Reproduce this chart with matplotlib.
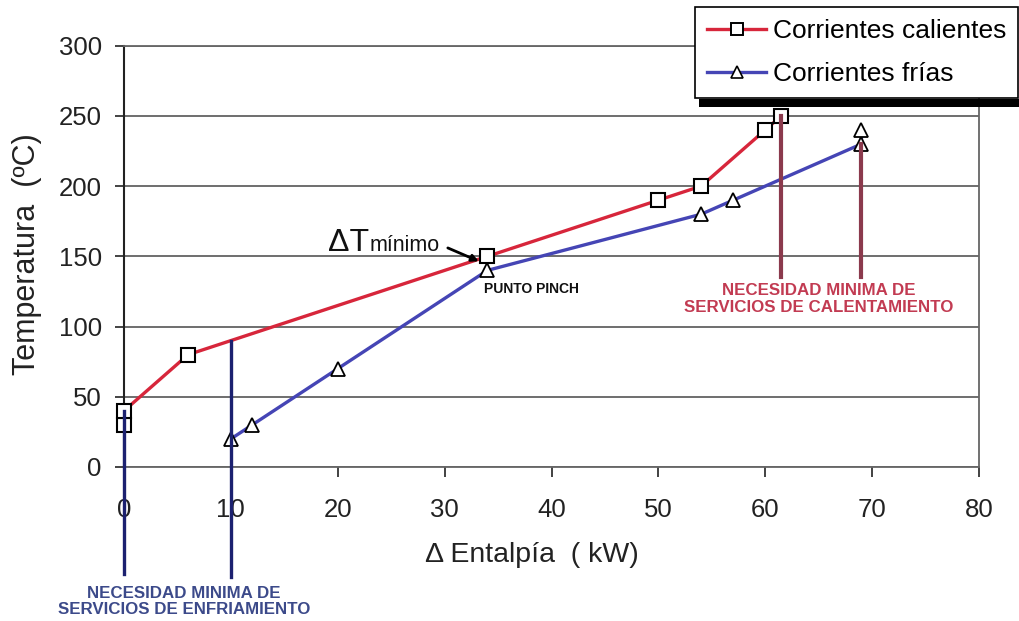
import numpy as np
import matplotlib
matplotlib.use("Agg")
import matplotlib.pyplot as plt
from matplotlib.lines import Line2D
from matplotlib.patches import Rectangle

plt.rcParams['font.family'] = ['Liberation Sans', 'DejaVu Sans']

# Composite curves (enthalpy in kW, temperature in ºC)
hot_dh = [0, 0, 6, 34, 50, 54, 60, 61.5]
hot_T = [30, 40, 80, 150, 190, 200, 240, 250]
cold_dh = [10, 12, 20, 34, 54, 57, 69, 69]
cold_T = [20, 30, 70, 140, 180, 190, 230, 240]

x_ticks = [0, 10, 20, 30, 40, 50, 60, 70, 80]
y_ticks = [0, 50, 100, 150, 200, 250, 300]

hot_label = "Corrientes calientes"
cold_label = "Corrientes frías"

RED = '#d7263b'
BLUE = '#4545b5'
NAVY = '#1c2170'
MAROON = '#8b3a4d'

W, H = 1020, 621
fig = plt.figure(figsize=(W / 100, H / 100), dpi=100)
ax = fig.add_axes([124 / W, 1 - 467 / H, 855 / W, 421.3 / H])
ax.set_xlim(x_ticks[0], x_ticks[-1])
ax.set_ylim(y_ticks[0], y_ticks[-1])
ax.set_xticks(x_ticks)
ax.set_yticks(y_ticks)

ax.yaxis.grid(True, color='#555555', lw=1.2)
ax.set_axisbelow(True)
for side in ['top', 'right', 'bottom']:
    ax.spines[side].set_color('#666666')
    ax.spines[side].set_linewidth(1.3)
ax.spines['left'].set_color('#222222')
ax.spines['left'].set_linewidth(1.5)

ax.tick_params(axis='y', direction='out', length=6.5, width=1.2, pad=9.5,
               labelsize=18.5, colors='#222222')
ax.tick_params(axis='x', direction='out', length=7, width=1.2, pad=15,
               labelsize=18.5, colors='#222222')

# Hot and cold composite curves
ax.plot(hot_dh, hot_T, color=RED, lw=2.4, marker='s', ms=9.5,
        mfc='white', mec='black', mew=1.5, clip_on=False, zorder=4)
ax.plot(cold_dh, cold_T, color=BLUE, lw=2.4, marker='^', ms=9.5,
        mfc='white', mec='black', mew=1.3, clip_on=False, zorder=4)

# Minimum cold-utility markers (below the hot curve start and cold curve start)
bottom = -76
ax.plot([hot_dh[0], hot_dh[0]], [hot_T[1], bottom], color=NAVY, lw=2.4,
        clip_on=False, zorder=6)
x_cold0 = cold_dh[0]
ax.plot([x_cold0, x_cold0], [np.interp(x_cold0, hot_dh, hot_T), bottom - 2],
        color=NAVY, lw=2.4, clip_on=False, zorder=6)
ax.text(5.6, -95.5, "NECESIDAD MINIMA DE\nSERVICIOS DE ENFRIAMIENTO",
        ha='center', va='center', fontsize=12.2, fontweight='bold',
        color='#3c4a8a', linespacing=1.1)

# Minimum hot-utility markers
low = 135.5
ax.plot([hot_dh[-1], hot_dh[-1]], [hot_T[-1], low], color=MAROON, lw=3,
        zorder=6)
ax.plot([cold_dh[-2], cold_dh[-2]], [cold_T[-2], low], color=MAROON, lw=3,
        zorder=6)
ax.text(65.0, 119.7, "NECESIDAD MINIMA DE\nSERVICIOS DE CALENTAMIENTO",
        ha='center', va='center', fontsize=12.2, fontweight='bold',
        color='#c23b52', linespacing=1.1)

# Pinch annotation
ax.text(33.7, 126.8, "PUNTO PINCH", ha='left', va='center', fontsize=10,
        fontweight='bold', color='#111111')
ax.text(19.08, 153.8, "ΔT", ha='left', va='baseline', fontsize=23,
        color='#111111')
ax.text(23.0, 153.8, "mínimo", ha='left', va='baseline', fontsize=15.5,
        color='#111111')
ax.annotate('', xy=(33.2, 146.5), xytext=(30.3, 156),
            arrowprops=dict(arrowstyle='-|>', color='black', lw=2,
                            mutation_scale=10, shrinkA=0, shrinkB=0),
            zorder=7)

# Axis labels
ax.set_xlabel("Δ Entalpía  ( kW)", fontsize=20.5, color='#222222')
ax.xaxis.set_label_coords((532 - 124) / 855, (467 - 555) / 421.3)
ax.xaxis.label.set_va('center')
ax.set_ylabel("Temperatura  (ºC)", fontsize=22, color='#222222')
ax.yaxis.set_label_coords((27 - 124) / 855, (467 - 254) / 421.3)
ax.yaxis.label.set_va('center')

# Legend with a solid drop shadow
handles = [
    Line2D([], [], color=RED, lw=2.4, marker='s', ms=8, mfc='white',
           mec='black', mew=1.4),
    Line2D([], [], color=BLUE, lw=2.4, marker='^', ms=8, mfc='white',
           mec='black', mew=1.2),
]
leg = fig.legend(handles, [hot_label, cold_label], loc='upper left',
                 bbox_to_anchor=(695 / W, 1 - 7 / H),
                 bbox_transform=fig.transFigure, borderaxespad=0,
                 fontsize=19, frameon=True, fancybox=False, framealpha=1,
                 edgecolor='black', borderpad=0.45, handlelength=2.25,
                 handletextpad=0.25, labelspacing=0.72, numpoints=1)
leg.get_frame().set_linewidth(1.2)
leg.set_zorder(10)
fig.add_artist(Rectangle((699 / W, 1 - 107 / H), 1 - 699 / W, 8 / H,
                         transform=fig.transFigure, facecolor='black',
                         edgecolor='none', zorder=9))

fig.savefig("out.png", dpi=100)
